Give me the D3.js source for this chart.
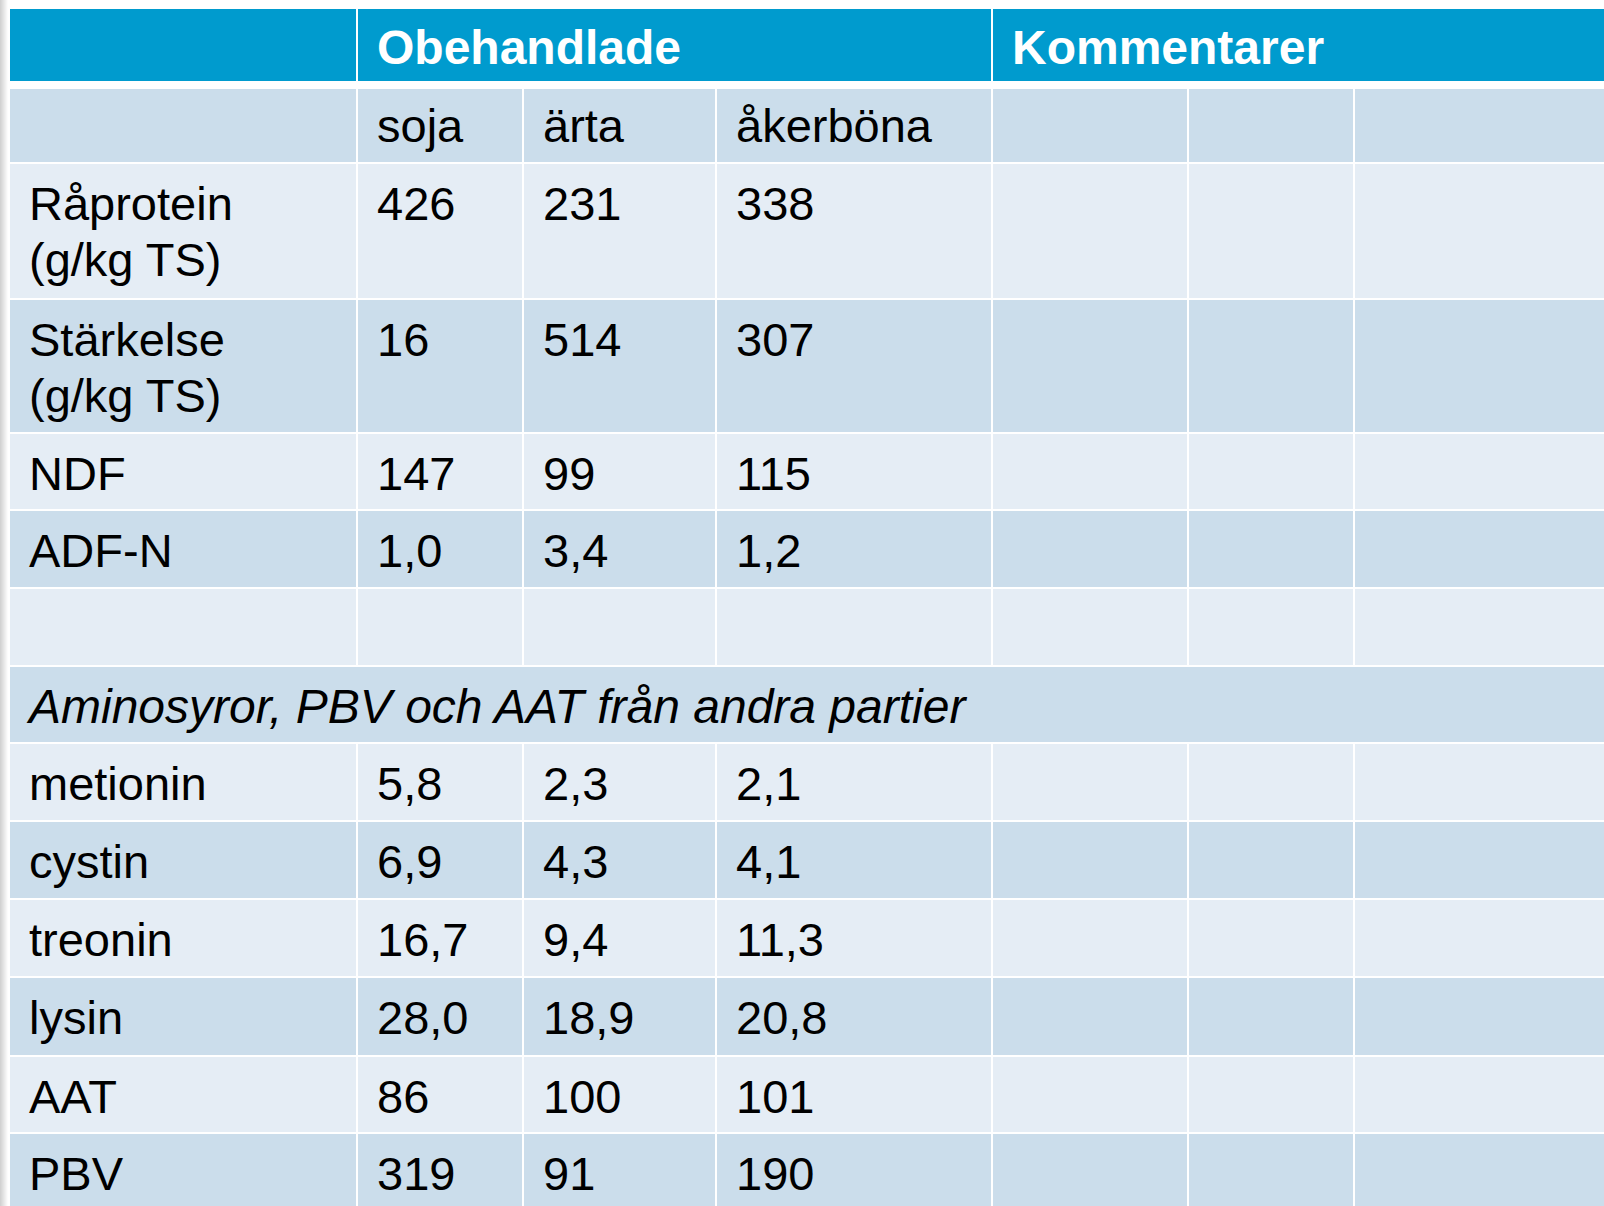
<!DOCTYPE html>
<html>
<head>
<meta charset="utf-8">
<script src="https://cdn.jsdelivr.net/npm/d3@7"></script>
<style>
  html, body { margin: 0; padding: 0; background: #fff; overflow: hidden; }
  text { font-family: "Liberation Sans", Arial, sans-serif; font-size: 47px; fill: #000; }
</style>
</head>
<body>
<div id="table"></div>
<script>
// table content
var groupHeaders = ["Obehandlade", "Kommentarer"];
var crops = ["soja", "ärta", "åkerböna"];

var topLabels = [["Råprotein", "(g/kg TS)"], ["Stärkelse", "(g/kg TS)"], ["NDF"], ["ADF-N"]];
var sojaTop = [426, 16, 147, 1.0];
var artaTop = [231, 514, 99, 3.4];
var akerbonaTop = [338, 307, 115, 1.2];
var topDecimals = [0, 0, 0, 1];

var sectionNote = "Aminosyror, PBV och AAT från andra partier";

var aminoLabels = ["metionin", "cystin", "treonin", "lysin", "AAT", "PBV"];
var sojaAmino = [5.8, 6.9, 16.7, 28.0, 86, 319];
var artaAmino = [2.3, 4.3, 9.4, 18.9, 100, 91];
var akerbonaAmino = [2.1, 4.1, 11.3, 20.8, 101, 190];
var aminoDecimals = [1, 1, 1, 1, 0, 0];

// layout
var width = 1604, height = 1206;
var headerColor = "#009bce", darkRow = "#cbddeb", lightRow = "#e5edf5";
var pad = 19;

// column edges (left of each cell) and the right edge of the table
var colEdges = [10, 358, 524, 717, 993, 1189, 1355, 1604];
var line = 2;
var headerTop = 9, headerBottom = 81;
// tops of body rows, each row ends 2px before the next one
var rowTops = [89, 164, 300, 434, 511, 589, 667, 744, 822, 900, 978, 1057, 1134, 1212];

var sv = d3.formatLocale({decimal: ",", thousands: " ", grouping: [3], currency: ["", " kr"]});
function fmt(v, dec) { return sv.format("." + dec + "f")(v); }

// build body rows
var rows = [];
rows.push({label: [""], values: crops, sub: true});
topLabels.forEach(function(l, i) {
  rows.push({label: l, values: [sojaTop[i], artaTop[i], akerbonaTop[i]].map(function(v) { return fmt(v, topDecimals[i]); })});
});
rows.push({label: [""], values: ["", "", ""]});
rows.push({note: sectionNote});
aminoLabels.forEach(function(l, i) {
  rows.push({label: [l], values: [sojaAmino[i], artaAmino[i], akerbonaAmino[i]].map(function(v) { return fmt(v, aminoDecimals[i]); })});
});

var svg = d3.select("#table").append("svg")
    .attr("width", width)
    .attr("height", height);

// faint shadow at the left edge
var grad = svg.append("defs").append("linearGradient").attr("id", "shade");
grad.append("stop").attr("offset", "0%").attr("stop-color", "#cfcfcf");
grad.append("stop").attr("offset", "100%").attr("stop-color", "#ffffff");
svg.append("rect").attr("x", 0).attr("y", 0).attr("width", 8).attr("height", height).attr("fill", "url(#shade)");

// header
var headCells = [
  {x0: colEdges[0], x1: colEdges[1] - line, text: ""},
  {x0: colEdges[1], x1: colEdges[4] - line, text: groupHeaders[0]},
  {x0: colEdges[4], x1: colEdges[7], text: groupHeaders[1]}
];
var head = svg.append("g").attr("class", "header");
head.selectAll("rect")
  .data(headCells)
  .enter()
  .append("rect")
  .attr("x", function(d) { return d.x0; })
  .attr("y", headerTop)
  .attr("width", function(d) { return d.x1 - d.x0; })
  .attr("height", headerBottom - headerTop)
  .attr("fill", headerColor);
head.selectAll("text")
  .data(headCells)
  .enter()
  .append("text")
  .attr("x", function(d) { return d.x0 + pad; })
  .attr("y", headerTop + 55)
  .style("font-weight", "bold")
  .style("font-size", "48px")
  .style("fill", "#fff")
  .text(function(d) { return d.text; });

// body
var body = svg.append("g").attr("class", "body");
rows.forEach(function(r, i) {
  var top = rowTops[i], bottom = rowTops[i + 1] - line;
  var fill = i % 2 == 0 ? darkRow : lightRow;
  var g = body.append("g");
  var base = top + (r.sub ? 53 : 56);

  if (r.note) {
    g.append("rect")
      .attr("x", colEdges[0]).attr("y", top)
      .attr("width", colEdges[7] - colEdges[0]).attr("height", bottom - top)
      .attr("fill", fill);
    g.append("text")
      .attr("x", colEdges[0] + pad).attr("y", base)
      .style("font-style", "italic")
      .style("font-size", "48px")
      .text(r.note);
    return;
  }

  var cells = d3.range(7).map(function(c) {
    var t = c == 0 ? r.label : (c <= 3 ? [r.values[c - 1]] : [""]);
    return {x0: colEdges[c], x1: c == 6 ? colEdges[7] : colEdges[c + 1] - line, lines: t};
  });

  g.selectAll("rect")
    .data(cells)
    .enter()
    .append("rect")
    .attr("x", function(d) { return d.x0; })
    .attr("y", top)
    .attr("width", function(d) { return d.x1 - d.x0; })
    .attr("height", bottom - top)
    .attr("fill", fill);

  g.selectAll("text")
    .data(cells)
    .enter()
    .append("text")
    .attr("x", function(d) { return d.x0 + pad; })
    .attr("y", base)
    .each(function(d) {
      var t = d3.select(this);
      d.lines.forEach(function(s, k) {
        t.append("tspan")
          .attr("x", d.x0 + pad)
          .attr("y", base + k * 56)
          .text(s);
      });
    });
});
</script>
</body>
</html>
